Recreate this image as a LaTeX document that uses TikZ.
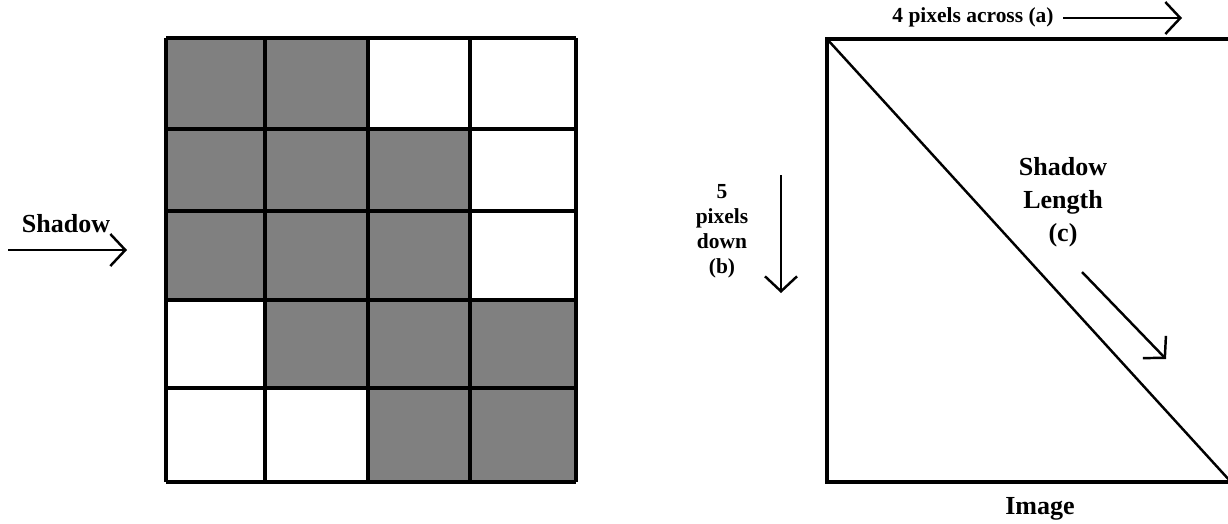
\documentclass[tikz,border=0pt]{standalone}
\usepackage{fontspec}
\setmainfont{Liberation Serif}
\usetikzlibrary{arrows.meta, positioning}

\begin{document}
\begin{tikzpicture}[x=0.01cm,y=-0.01cm,>={Straight Barb[length=1.5mm,width=3.2mm]},
      every node/.style={font=\bfseries\fontsize{7.4}{9.4}\selectfont,inner sep=0pt,align=center},
      small/.style={font=\bfseries\fontsize{6.1}{7.1}\selectfont},
      gridline/.style={line width=0.9pt},
      pointer/.style={->,line width=0.7pt}]
      \useasboundingbox (0,0) rectangle (1228,523);
      % shaded pixels
      \fill[gray] (166,38) -| (368,129) -| (470,300) -| (576,482) -| (368,388) -| (265,300) -| (166,38) -- cycle;
      % pixel grid
      \foreach \gx in {166,265,368,470,576} \draw[gridline] (\gx,38) -- (\gx,482);
      \foreach \gy in {38,129,211,300,388,482} \draw[gridline] (166,\gy) -- (576,\gy);
      \node (shadow) at (66,224) {Shadow};
      \coordinate (sa) at (8,250);
      \coordinate (sb) at (127,250);
      \draw[pointer] (sa) -- (sb);
      % image square
      \coordinate (tl) at (827,39);
      \coordinate (br) at (1231,482);
      \draw[gridline] (tl) rectangle (br);
      \draw[line width=0.7pt] (tl) -- (br);
      \node[small] (across) at (973,17) {4 pixels across (a)};
      \coordinate (aa) at (1063,18);
      \coordinate (ab) at (1182,18);
      \draw[pointer] (aa) -- (ab);
      \node[small] (down) at (722,231) {5\\pixels\\down\\(b)};
      \coordinate (da) at (781,175);
      \coordinate (db) at (781,293);
      \draw[pointer] (da) -- (db);
      \node (length) at (1063,202) {Shadow\\Length\\(c)};
      \coordinate (la) at (1082,272);
      \coordinate (lb) at (1166,359);
      \draw[pointer] (la) -- (lb);
      \node (image) at (1040,509) {Image};
    \end{tikzpicture}
\end{document}
